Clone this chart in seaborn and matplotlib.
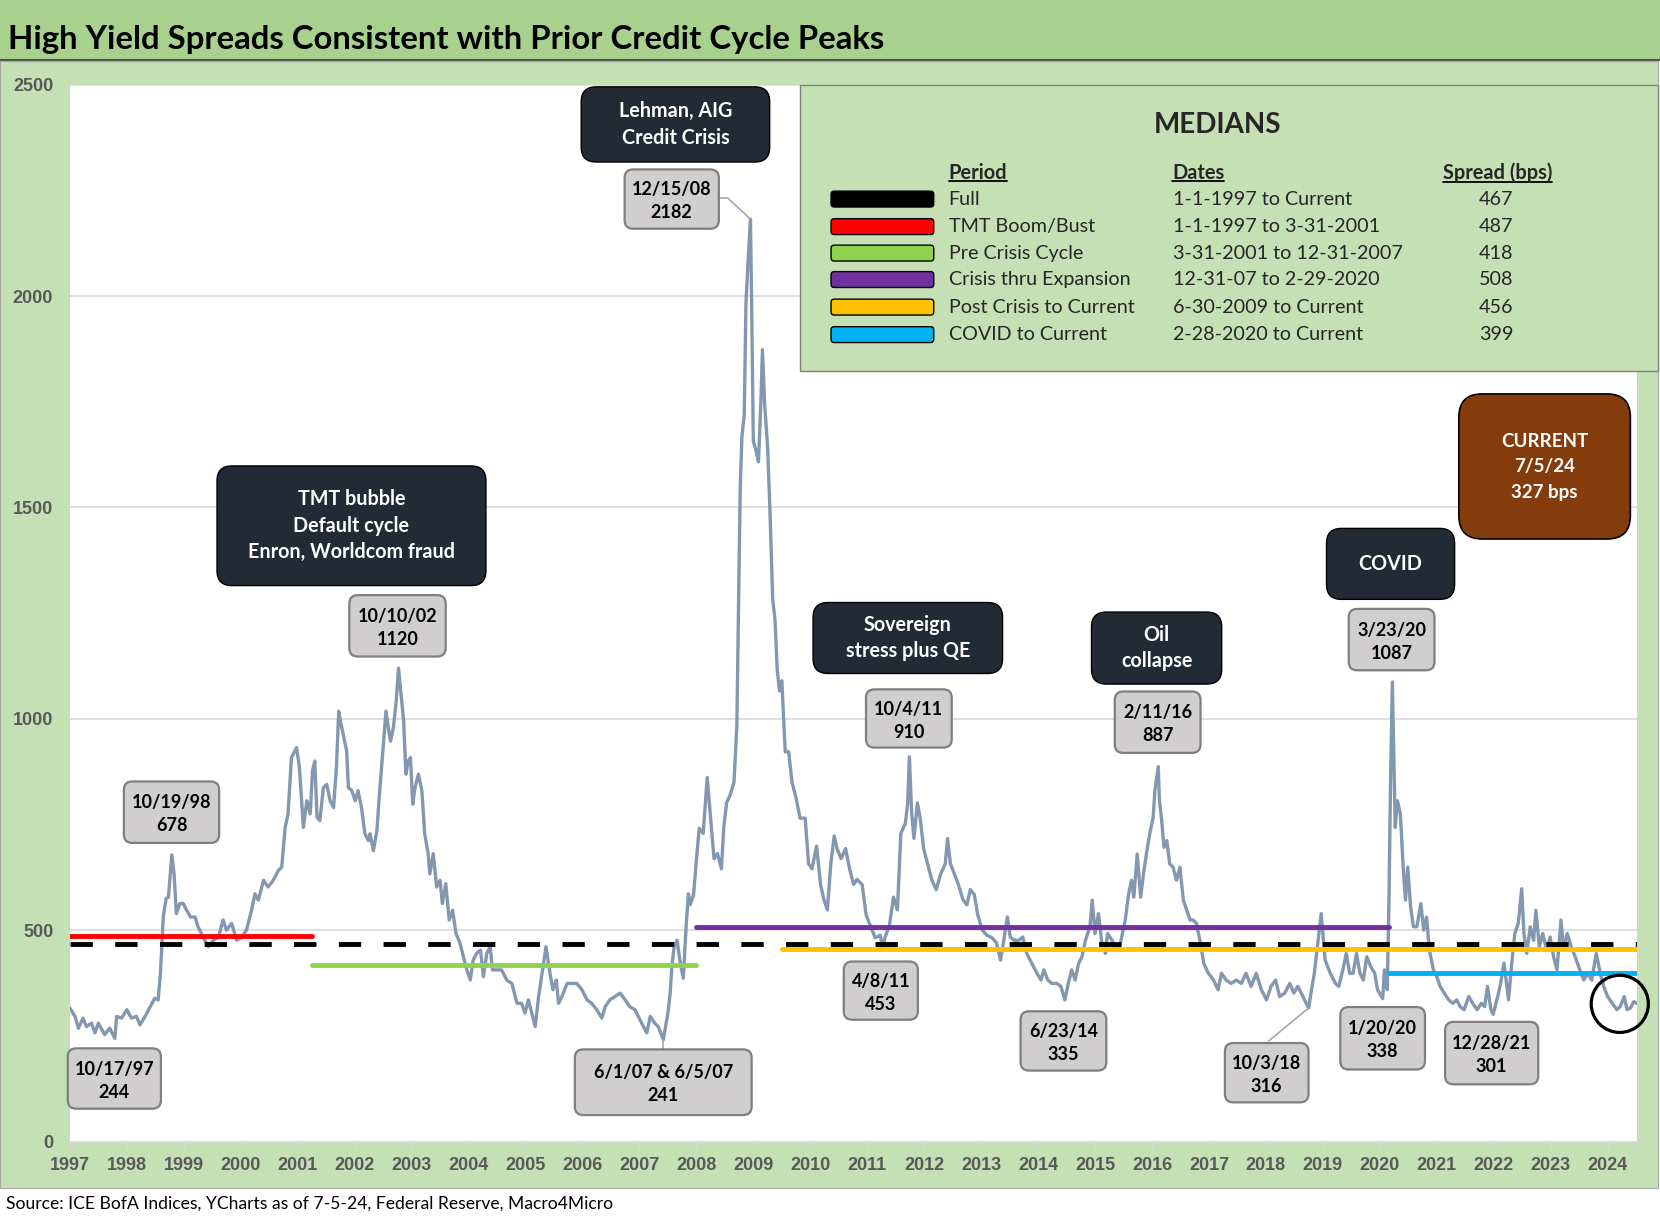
import matplotlib
matplotlib.use("Agg")
import matplotlib.pyplot as plt
import seaborn as sns
from matplotlib.patches import FancyBboxPatch, Rectangle, Ellipse
from matplotlib.lines import Line2D

sns.set_theme(style="white")
plt.rcParams['font.family'] = ['Lato', 'DejaVu Sans']

# HY spread (bps) at irregular dates (decimal years)
years = [
    1997.00, 1997.09, 1997.15, 1997.23, 1997.29, 1997.38, 1997.44, 1997.50, 1997.56, 1997.61,
    1997.70, 1997.79, 1997.82, 1997.91, 1998.00, 1998.08, 1998.17, 1998.23, 1998.32, 1998.41,
    1998.49, 1998.55, 1998.59, 1998.64, 1998.69, 1998.73, 1998.79, 1998.83, 1998.87, 1998.93,
    1998.99, 1999.05, 1999.12, 1999.20, 1999.25, 1999.34, 1999.43, 1999.52, 1999.61, 1999.69,
    1999.75, 1999.84, 1999.93, 2000.02, 2000.10, 2000.19, 2000.25, 2000.31, 2000.40, 2000.48,
    2000.57, 2000.66, 2000.72, 2000.78, 2000.83, 2000.89, 2000.92, 2000.98, 2001.03, 2001.10,
    2001.16, 2001.22, 2001.26, 2001.30, 2001.34, 2001.39, 2001.45, 2001.51, 2001.57, 2001.63,
    2001.68, 2001.72, 2001.75, 2001.80, 2001.86, 2001.89, 2001.95, 2002.01, 2002.06, 2002.12,
    2002.18, 2002.24, 2002.27, 2002.33, 2002.39, 2002.44, 2002.49, 2002.55, 2002.59, 2002.63,
    2002.68, 2002.73, 2002.77, 2002.81, 2002.86, 2002.90, 2002.94, 2002.98, 2003.02, 2003.06,
    2003.12, 2003.18, 2003.23, 2003.29, 2003.32, 2003.38, 2003.44, 2003.50, 2003.54, 2003.60,
    2003.66, 2003.72, 2003.78, 2003.85, 2003.91, 2003.97, 2004.03, 2004.08, 2004.14, 2004.21,
    2004.26, 2004.32, 2004.38, 2004.42, 2004.49, 2004.58, 2004.67, 2004.76, 2004.85, 2004.93,
    2004.99, 2005.05, 2005.11, 2005.17, 2005.23, 2005.29, 2005.36, 2005.42, 2005.48, 2005.54,
    2005.58, 2005.64, 2005.73, 2005.81, 2005.90, 2005.99, 2006.08, 2006.16, 2006.25, 2006.34,
    2006.40, 2006.48, 2006.57, 2006.66, 2006.75, 2006.83, 2006.92, 2007.01, 2007.07, 2007.13,
    2007.19, 2007.27, 2007.33, 2007.42, 2007.45, 2007.50, 2007.54, 2007.57, 2007.61, 2007.66,
    2007.71, 2007.77, 2007.82, 2007.86, 2007.89, 2007.95, 2008.01, 2008.05, 2008.12, 2008.19,
    2008.25, 2008.31, 2008.37, 2008.44, 2008.48, 2008.53, 2008.59, 2008.66, 2008.71, 2008.74,
    2008.77, 2008.80, 2008.84, 2008.87, 2008.91, 2008.95, 2008.97, 2009.00, 2009.05, 2009.09,
    2009.13, 2009.16, 2009.20, 2009.25, 2009.29, 2009.34, 2009.38, 2009.42, 2009.46, 2009.50,
    2009.56, 2009.62, 2009.68, 2009.75, 2009.82, 2009.91, 2009.97, 2010.03, 2010.11, 2010.18,
    2010.24, 2010.30, 2010.36, 2010.42, 2010.47, 2010.54, 2010.62, 2010.69, 2010.76, 2010.82,
    2010.91, 2010.98, 2011.05, 2011.14, 2011.23, 2011.27, 2011.31, 2011.39, 2011.46, 2011.53,
    2011.59, 2011.67, 2011.71, 2011.74, 2011.78, 2011.82, 2011.88, 2011.93, 2011.99, 2012.06,
    2012.13, 2012.21, 2012.29, 2012.37, 2012.41, 2012.46, 2012.53, 2012.60, 2012.68, 2012.75,
    2012.81, 2012.88, 2012.94, 2013.02, 2013.10, 2013.19, 2013.27, 2013.34, 2013.39, 2013.46,
    2013.51, 2013.58, 2013.66, 2013.73, 2013.80, 2013.89, 2013.98, 2014.05, 2014.10, 2014.17,
    2014.24, 2014.33, 2014.40, 2014.47, 2014.53, 2014.59, 2014.65, 2014.71, 2014.77, 2014.83,
    2014.91, 2014.95, 2015.00, 2015.06, 2015.12, 2015.18, 2015.22, 2015.30, 2015.36, 2015.42,
    2015.48, 2015.53, 2015.59, 2015.64, 2015.68, 2015.74, 2015.80, 2015.85, 2015.91, 2015.96,
    2016.02, 2016.05, 2016.11, 2016.13, 2016.17, 2016.21, 2016.26, 2016.31, 2016.37, 2016.43,
    2016.49, 2016.55, 2016.61, 2016.67, 2016.72, 2016.78, 2016.84, 2016.91, 2016.99, 2017.08,
    2017.16, 2017.22, 2017.30, 2017.39, 2017.48, 2017.57, 2017.65, 2017.74, 2017.83, 2017.92,
    2018.01, 2018.09, 2018.17, 2018.24, 2018.33, 2018.42, 2018.49, 2018.56, 2018.65, 2018.72,
    2018.75, 2018.80, 2018.85, 2018.91, 2018.97, 2019.04, 2019.13, 2019.22, 2019.28, 2019.35,
    2019.41, 2019.47, 2019.53, 2019.59, 2019.65, 2019.71, 2019.77, 2019.84, 2019.91, 2019.96,
    2020.05, 2020.08, 2020.13, 2020.16, 2020.19, 2020.22, 2020.24, 2020.27, 2020.31, 2020.36,
    2020.41, 2020.45, 2020.49, 2020.54, 2020.59, 2020.65, 2020.72, 2020.77, 2020.82, 2020.87,
    2020.94, 2021.00, 2021.06, 2021.13, 2021.21, 2021.28, 2021.35, 2021.41, 2021.48, 2021.56,
    2021.63, 2021.71, 2021.78, 2021.84, 2021.89, 2021.95, 2021.99, 2022.07, 2022.12, 2022.18,
    2022.26, 2022.31, 2022.37, 2022.43, 2022.49, 2022.53, 2022.58, 2022.64, 2022.70, 2022.74,
    2022.80, 2022.86, 2022.93, 2022.99, 2023.05, 2023.11, 2023.18, 2023.23, 2023.29, 2023.36,
    2023.43, 2023.51, 2023.58, 2023.65, 2023.72, 2023.80, 2023.87, 2023.93, 2024.00, 2024.08,
    2024.16, 2024.22, 2024.29, 2024.34, 2024.40, 2024.46, 2024.51]
spreads = [
    316, 296, 268, 292, 272, 280, 257, 280, 265, 253,
    268, 244, 296, 292, 312, 292, 296, 276, 296, 319,
    339, 335, 398, 531, 575, 578, 678, 633, 539, 563,
    563, 547, 531, 531, 508, 484, 461, 476, 484, 524,
    500, 516, 476, 484, 500, 547, 586, 571, 618, 602,
    618, 641, 649, 743, 775, 908, 916, 932, 885, 743,
    806, 775, 877, 900, 767, 759, 837, 845, 806, 790,
    885, 1018, 995, 963, 924, 837, 830, 806, 830, 790,
    728, 712, 728, 688, 735, 830, 916, 1018, 979, 947,
    979, 1042, 1120, 1065, 995, 869, 900, 908, 798, 837,
    869, 830, 728, 681, 633, 681, 602, 618, 563, 610,
    524, 547, 492, 469, 437, 406, 382, 429, 445, 453,
    390, 445, 461, 406, 406, 406, 382, 374, 327, 327,
    304, 335, 304, 272, 343, 398, 461, 406, 359, 382,
    327, 343, 374, 374, 374, 359, 335, 327, 312, 292,
    319, 335, 343, 351, 335, 319, 312, 288, 272, 257,
    296, 280, 272, 241, 265, 304, 351, 414, 461, 476,
    429, 386, 508, 586, 560, 584, 681, 741, 729, 861,
    765, 669, 681, 645, 741, 801, 819, 849, 982, 1259,
    1548, 1669, 1717, 1982, 2090, 2182, 1982, 1657, 1633, 1608,
    1741, 1873, 1741, 1645, 1500, 1283, 1235, 1114, 1066, 1090,
    922, 922, 849, 813, 765, 765, 657, 645, 699, 608,
    572, 548, 657, 723, 693, 669, 693, 645, 608, 620,
    608, 536, 512, 482, 488, 453, 482, 512, 578, 548,
    729, 753, 801, 910, 777, 717, 801, 765, 693, 657,
    620, 596, 633, 657, 717, 657, 633, 608, 572, 560,
    596, 584, 536, 500, 488, 482, 470, 429, 469, 531,
    484, 476, 476, 484, 445, 421, 398, 382, 406, 382,
    374, 374, 367, 335, 374, 406, 382, 421, 437, 476,
    508, 571, 492, 539, 469, 445, 492, 476, 453, 453,
    492, 524, 586, 618, 578, 680, 578, 633, 688, 728,
    767, 830, 887, 806, 759, 696, 712, 657, 649, 618,
    649, 571, 547, 524, 524, 516, 476, 421, 398, 382,
    359, 398, 382, 374, 382, 374, 398, 367, 398, 359,
    335, 367, 382, 343, 351, 374, 351, 367, 343, 323,
    316, 359, 398, 469, 539, 429, 398, 374, 367, 406,
    445, 398, 398, 445, 398, 382, 437, 414, 398, 359,
    338, 406, 359, 571, 869, 1087, 947, 743, 806, 775,
    649, 571, 649, 555, 508, 508, 563, 500, 531, 453,
    406, 390, 367, 351, 335, 327, 335, 319, 312, 343,
    327, 312, 327, 319, 367, 312, 301, 343, 374, 422,
    335, 414, 492, 516, 598, 492, 445, 508, 476, 547,
    461, 492, 453, 484, 437, 406, 524, 453, 492, 461,
    437, 406, 382, 398, 382, 445, 398, 367, 343, 327,
    312, 319, 343, 312, 316, 331, 327]
assert len(years) == len(spreads)

# median table
median_periods = ["Full", "TMT Boom/Bust", "Pre Crisis Cycle", "Crisis thru Expansion",
                  "Post Crisis to Current", "COVID to Current"]
median_dates = ["1-1-1997 to Current", "1-1-1997 to 3-31-2001", "3-31-2001 to 12-31-2007",
                "12-31-07 to 2-29-2020", "6-30-2009 to Current", "2-28-2020 to Current"]
median_spreads = [467, 487, 418, 508, 456, 399]
median_from = [1997.0, 1997.0, 2001.25, 2008.0, 2009.5, 2020.16]
median_to = [2024.51, 2001.25, 2008.0, 2020.16, 2024.51, 2024.51]
median_colors = ["#000000", "#ff0000", "#92d050", "#7030a0", "#ffc000", "#00b0f0"]

# peak / trough call-outs
point_dates = ["12/15/08", "10/10/02", "10/19/98", "10/17/97", "6/1/07 & 6/5/07", "10/4/11",
               "4/8/11", "6/23/14", "2/11/16", "10/3/18", "3/23/20", "1/20/20", "12/28/21"]
point_values = [2182, 1120, 678, 244, 241, 910, 453, 335, 887, 316, 1087, 338, 301]
point_boxes = [(590, 160, 679, 216), (330, 562, 421, 620), (117, 738, 207, 796), (64, 990, 152, 1047),
               (543, 991, 710, 1053), (818, 651, 899, 706), (797, 908, 867, 963), (964, 955, 1045, 1011),
               (1053, 653, 1134, 711), (1157, 985, 1236, 1041), (1274, 575, 1355, 633),
               (1266, 951, 1346, 1010), (1365, 965, 1453, 1024)]

events = ["Lehman, AIG\nCredit Crisis", "TMT bubble\nDefault cycle\nEnron, Worldcom fraud",
          "Sovereign\nstress plus QE", "Oil\ncollapse", "COVID"]
event_boxes = [(549, 82, 727, 153), (205, 440, 459, 553), (768, 569, 947, 636),
               (1031, 578, 1154, 646), (1253, 499, 1374, 566)]

current_date = "7/5/24"
current_value = 327

# layout grid of the reference picture
W, H = 1568, 1154
ASPECT = 1660 / 1222


def fx(x):
    return x / W


def fy(y):
    return 1 - y / H


fig = plt.figure(figsize=(16.6, 12.22), dpi=100)
fig.patch.set_facecolor("white")


def fig_box(x0, y0, x1, y1, face, edge, lw, rad, z=5):
    p = FancyBboxPatch((fx(x0), fy(y1)), fx(x1) - fx(x0), fy(y0) - fy(y1),
                       boxstyle=f"round,pad=0,rounding_size={rad / W}",
                       mutation_aspect=ASPECT, transform=fig.transFigure,
                       facecolor=face, edgecolor=edge, linewidth=lw, zorder=z)
    fig.add_artist(p)


# background bands
fig.add_artist(Rectangle((0, fy(57)), 1, 1 - fy(57), transform=fig.transFigure,
                         facecolor="#a9d18e", edgecolor="none", zorder=-10))
fig.add_artist(Rectangle((0, fy(1122)), fx(1566), fy(58) - fy(1122), transform=fig.transFigure,
                         facecolor="#c5e0b4", edgecolor="#a6a6a6", linewidth=0.8, zorder=-10))
fig.add_artist(Line2D([0, 1], [fy(57), fy(57)], transform=fig.transFigure, color="#3a3a3a", lw=1.2))

fig.text(fx(8), fy(37), "High Yield Spreads Consistent with Prior Credit Cycle Peaks",
         fontsize=23.7, fontweight="bold", color="black", ha="left", va="center")
fig.text(fx(6), fy(1137), "Source: ICE BofA Indices, YCharts as of 7-5-24, Federal Reserve, Macro4Micro",
         fontsize=12.6, color="black", ha="left", va="center")

# main axes
ax = fig.add_axes([fx(66), fy(1078), fx(1546) - fx(66), fy(80) - fy(1078)])
ax.set_facecolor("white")
sns.lineplot(x=years, y=spreads, ax=ax, color="#8497b0", linewidth=2.4, sort=False, zorder=2)

for i in range(len(median_spreads)):
    if i == 0:
        ax.plot([median_from[i], median_to[i]], [median_spreads[i]] * 2, color=median_colors[i],
                lw=3.5, linestyle=(0, (4.6, 4.6)), zorder=3)
    else:
        ax.plot([median_from[i], median_to[i]], [median_spreads[i]] * 2, color=median_colors[i],
                lw=3.5, solid_capstyle="round", zorder=4)

ax.set_xlim(1997, 2024.51)
ax.set_ylim(0, 2500)
ax.set_xticks(range(1997, 2025))
ax.set_xticklabels([str(y) for y in range(1997, 2025)])
ax.set_yticks(range(0, 2501, 500))
ax.set_xlabel("")
ax.set_ylabel("")
ax.yaxis.grid(True, color="#d9d9d9", lw=1.2)
ax.xaxis.grid(False)
for s in ["left", "right", "top"]:
    ax.spines[s].set_visible(False)
ax.spines["bottom"].set_color("#d9d9d9")
ax.spines["bottom"].set_linewidth(1.2)
ax.tick_params(axis="x", direction="out", length=5, width=1, color="#d9d9d9",
               labelcolor="#595959", labelsize=13, pad=6, bottom=True)
ax.tick_params(axis="y", length=0, labelcolor="#595959", labelsize=13, pad=12)
for lbl in ax.get_xticklabels() + ax.get_yticklabels():
    lbl.set_fontfamily(["Liberation Sans", "DejaVu Sans"])
    lbl.set_fontweight("bold")

# leader lines
ax.plot([2008.42, 2008.55, 2008.95], [2232, 2232, 2182], color="#a6a6a6", lw=1.2, zorder=5)
ax.plot([2007.42, 2007.42], [241, 218], color="#a6a6a6", lw=1.2, zorder=5)
ax.plot([2018.05, 2018.75], [238, 316], color="#a6a6a6", lw=1.2, zorder=5)

# medians panel
fig.add_artist(Rectangle((fx(756), fy(350)), fx(1566) - fx(756), fy(80) - fy(350),
                         transform=fig.transFigure, facecolor="#c5e0b4",
                         edgecolor="#7f7f7f", linewidth=1.0, zorder=5))
fig.text(fx(1150), fy(118), "MEDIANS", fontsize=20, fontweight="bold", ha="center", va="center", zorder=6)
headers = [(896, "Period"), (1107, "Dates"), (1363, "Spread (bps)")]
header_texts = []
for hx, ht in headers:
    header_texts.append(fig.text(fx(hx), fy(163), ht, fontsize=14.4, fontweight="bold",
                                 ha="left", va="center", zorder=6))
row_y = [188, 214, 239, 264, 290, 316]
for i in range(len(median_periods)):
    fig_box(785, row_y[i] - 7.5, 882, row_y[i] + 7.5, median_colors[i], "black", 1.0, 3, z=6)
    fig.text(fx(896), fy(row_y[i]), median_periods[i], fontsize=14.2, ha="left", va="center", zorder=6)
    fig.text(fx(1108), fy(row_y[i]), median_dates[i], fontsize=14.2, ha="left", va="center", zorder=6)
    fig.text(fx(1413), fy(row_y[i]), str(median_spreads[i]), fontsize=14.2, ha="center", va="center", zorder=6)

# event boxes
for txt, (x0, y0, x1, y1) in zip(events, event_boxes):
    fig_box(x0, y0, x1, y1, "#222a35", "black", 1.0, 14)
    fig.text(fx((x0 + x1) / 2), fy((y0 + y1) / 2), txt, fontsize=14.2, fontweight="bold",
             color="white", ha="center", va="center", linespacing=1.4, zorder=6)

fig_box(1378, 372, 1540, 509, "#843c0c", "black", 1.2, 22)
fig.text(fx(1459), fy(441), f"CURRENT\n{current_date}\n{current_value} bps", fontsize=13.5,
         fontweight="bold", color="white", ha="center", va="center", linespacing=1.6, zorder=6)

# call-out labels
for d, v, (x0, y0, x1, y1) in zip(point_dates, point_values, point_boxes):
    fig_box(x0, y0, x1, y1, "#d0cece", "#7f7f7f", 1.6, 8)
    fig.text(fx((x0 + x1) / 2), fy((y0 + y1) / 2 + 2), f"{d}\n{v}", fontsize=13, fontweight="bold",
             color="black", ha="center", va="center", linespacing=1.43, zorder=6)

# circle around current level
fig.add_artist(Ellipse((fx(1530), fy(948)), 2 * 27 / W, 2 * 27 / H, transform=fig.transFigure,
                       facecolor="none", edgecolor="black", linewidth=2.3, zorder=6))

# underline headers
fig.canvas.draw()
r = fig.canvas.get_renderer()
for t in header_texts:
    bb = t.get_window_extent(r).transformed(fig.transFigure.inverted())
    fig.add_artist(Line2D([bb.x0, bb.x1], [bb.y0 + 0.001, bb.y0 + 0.001], transform=fig.transFigure,
                          color="black", lw=1.3, zorder=6))

fig.savefig("out.png", dpi=100)
